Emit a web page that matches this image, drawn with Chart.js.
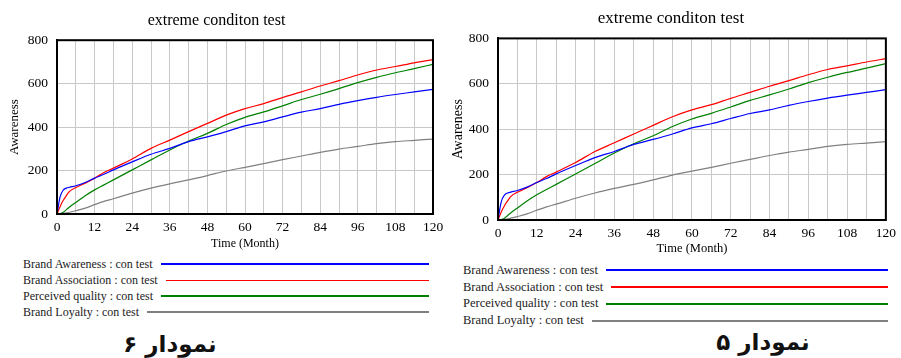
<!DOCTYPE html>
<html>
<head>
<meta charset="utf-8">
<script src="https://cdn.jsdelivr.net/npm/chart.js@4.4.0/dist/chart.umd.min.js"></script>
<style>
    body { margin: 0; width: 901px; height: 358px; background: #fff; position: relative; overflow: hidden; font-family: 'Liberation Serif', serif; }
    .chart-box { position: absolute; }
    .chart-box canvas { display: block; }
    .legend { position: absolute; color: #222; }
    .legend .row { display: flex; align-items: center; white-space: nowrap; }
    .legend .swatch { flex: 1; margin-left: 8px; }
    .caption { position: absolute; transform: translate(-50%, -50%); font-family: 'DejaVu Sans', sans-serif; font-weight: bold; font-size: 23px; direction: rtl; color: #111; white-space: nowrap; }
</style>
</head>
<body>

<div class="chart-box" style="left:0;top:0;width:450px;height:255px;"><canvas id="chartLeft"></canvas></div>
<div class="chart-box" style="left:450px;top:0;width:451px;height:260px;"><canvas id="chartRight"></canvas></div>

<div class="legend" id="legendLeft" style="left:23px;top:256px;width:406px;font-size:12px;"></div>
<div class="legend" id="legendRight" style="left:463px;top:262px;width:425px;font-size:12.5px;"></div>

<div class="caption" style="left:170px;top:344px;">نمودار ۶</div>
<div class="caption" style="left:763px;top:342px;">نمودار ۵</div>

<script>
// داده‌ها (خوانده شده از تصویر)
const months = [0, 1, 2, 3, 4, 6, 9, 12, 15, 18, 24, 30, 36, 42, 48, 54, 60, 66, 72, 78, 84, 90, 96, 102, 108, 114, 120];
const brandAwareness = [0, 80, 110, 119, 123, 130, 145, 165, 183, 203, 240, 275, 302, 333, 355, 379, 406, 424, 447, 469, 485, 505, 522, 537, 550, 562, 574];
const brandAssociation = [0, 35, 63, 85, 104, 122, 142, 165, 191, 211, 253, 302, 340, 379, 417, 455, 485, 508, 536, 562, 589, 614, 640, 663, 679, 696, 711];
const perceivedQuality = [0, 2, 8, 20, 32, 53, 84, 111, 134, 157, 203, 249, 295, 336, 371, 412, 445, 470, 498, 527, 551, 577, 605, 629, 650, 669, 689];
const brandLoyalty = [0, 1, 3, 5, 8, 15, 27, 43, 58, 70, 96, 119, 139, 157, 177, 198, 215, 232, 250, 267, 284, 299, 311, 324, 333, 339, 345];

const xTicks = [0, 12, 24, 36, 48, 60, 72, 84, 96, 108, 120];
const yTicks = [0, 200, 400, 600, 800];

const seriesNames = ['Brand Awareness : con test', 'Brand Association : con test', 'Perceived quality : con test', 'Brand Loyalty : con test'];
const seriesColors = ['#0000ff', '#ff0000', '#008000', '#808080'];
const seriesValues = [brandAwareness, brandAssociation, perceivedQuality, brandLoyalty];

const SERIF = "'Liberation Serif', 'Times New Roman', serif";
Chart.defaults.font.family = SERIF;
Chart.defaults.color = '#000';

// قاب دور ناحیه نمودار
const framePlugin = {
    id: 'plotFrame',
    afterDraw(chart) {
        const a = chart.chartArea;
        const ctx = chart.ctx;
        ctx.save();
        ctx.strokeStyle = '#000';
        ctx.lineWidth = 2;
        ctx.strokeRect(a.left, a.top, a.right - a.left, a.bottom - a.top);
        ctx.restore();
    }
};

function makeChart(id, g) {
    const datasets = seriesValues.map((vals, i) => ({
        label: seriesNames[i],
        data: months.map((m, j) => ({ x: m, y: vals[j] })),
        borderColor: seriesColors[i],
        borderWidth: 1.2,
        pointRadius: 0,
        fill: false,
        cubicInterpolationMode: 'monotone'
    }));

    return new Chart(document.getElementById(id), {
        type: 'line',
        data: { datasets: datasets },
        plugins: [framePlugin],
        options: {
            responsive: true,
            maintainAspectRatio: false,
            animation: false,
            layout: { padding: { left: 0, right: g.padRight, top: 0, bottom: 0 } },
            plugins: {
                legend: { display: false },
                tooltip: { enabled: false },
                title: {
                    display: true,
                    text: 'extreme conditon test',
                    color: '#000',
                    font: { family: SERIF, size: g.titleSize, weight: 'normal' },
                    padding: { top: g.titleTop, bottom: g.titleBottom }
                }
            },
            scales: {
                x: {
                    type: 'linear',
                    min: 0,
                    max: 120,
                    afterBuildTicks: (scale) => {
                        const t = [];
                        for (let v = 0; v <= 120; v += 6) t.push({ value: v });
                        scale.ticks = t;
                    },
                    afterFit: (scale) => { scale.height = g.xHeight; },
                    ticks: {
                        autoSkip: false,
                        maxRotation: 0,
                        padding: 5,
                        color: '#000',
                        font: { family: SERIF, size: 13.5 },
                        callback: (v) => xTicks.includes(v) ? String(v) : ''
                    },
                    grid: { color: '#c8c8c8', lineWidth: 1, drawTicks: false },
                    border: { color: '#000', width: 2 },
                    title: {
                        display: true,
                        text: 'Time (Month)',
                        color: '#000',
                        font: { family: SERIF, size: g.xTitleSize },
                        padding: { top: 0, bottom: g.xTitleBottom }
                    }
                },
                y: {
                    min: 0,
                    max: 800,
                    afterBuildTicks: (scale) => { scale.ticks = yTicks.map(v => ({ value: v })); },
                    afterFit: (scale) => { scale.width = g.yWidth; },
                    ticks: { padding: 9, color: '#000', font: { family: SERIF, size: 13.5 } },
                    grid: { color: '#c8c8c8', lineWidth: 1, drawTicks: false },
                    border: { color: '#000', width: 2 },
                    title: {
                        display: true,
                        text: 'Awareness',
                        color: '#000',
                        font: { family: SERIF, size: g.yTitleSize },
                        padding: { top: g.yTitleTop, bottom: 0 }
                    }
                }
            }
        }
    });
}

function buildLegend(id, widths, rowHeight) {
    const box = document.getElementById(id);
    seriesNames.forEach((name, i) => {
        const row = document.createElement('div');
        row.className = 'row';
        row.style.height = rowHeight + 'px';
        const label = document.createElement('span');
        label.textContent = name;
        const line = document.createElement('div');
        line.className = 'swatch';
        line.style.height = widths[i] + 'px';
        line.style.background = seriesColors[i];
        row.appendChild(label);
        row.appendChild(line);
        box.appendChild(row);
    });
}

makeChart('chartLeft', {
    padRight: 17, titleSize: 16, titleTop: 11, titleBottom: 10,
    xHeight: 41, xTitleSize: 12, xTitleBottom: 4,
    yWidth: 57, yTitleSize: 13, yTitleTop: 7
});
makeChart('chartRight', {
    padRight: 9, titleSize: 17, titleTop: 8, titleBottom: 10,
    xHeight: 40, xTitleSize: 12.5, xTitleBottom: 4,
    yWidth: 48, yTitleSize: 14, yTitleTop: 0
});

buildLegend('legendLeft', [2, 1, 2, 2], 16);
buildLegend('legendRight', [2, 2, 2, 2], 16.8);
</script>
</body>
</html>
